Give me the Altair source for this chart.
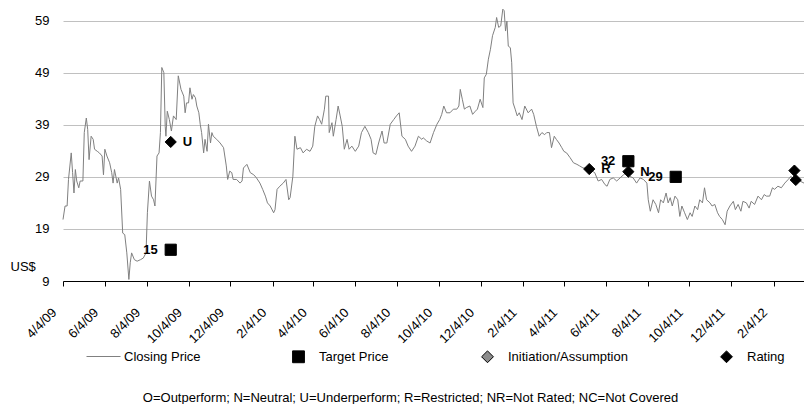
import altair as alt
import pandas as pd

START = "2009-04-04"

price_days = [
    0, 3, 6, 8, 12, 14, 16, 18, 20, 23, 25, 29, 31, 34, 36, 38, 41, 44, 46, 50, 53, 57, 59, 61, 64, 68, 71, 73, 75, 79,
    81, 84, 87, 90, 93, 96, 98, 100, 104, 108, 113, 117, 121, 123, 126, 129, 132, 134, 137, 140, 142, 144, 147, 149, 150,
    152, 155, 158, 161, 165, 168, 172, 176,
    178, 180, 183, 185, 188, 190, 193, 195, 198, 200, 202, 205, 207, 210, 212, 215, 217, 219, 224, 229, 234, 238, 240,
    243, 246, 248, 253, 258, 261, 263, 268, 273, 278, 282, 287, 291, 295, 298, 302, 307, 309, 312, 316, 321, 325, 329,
    331, 335, 338, 341, 346, 350,
    355, 360, 364, 367, 371, 374, 377, 381, 383, 387, 388, 392, 394, 398, 401, 404, 407, 410, 414, 417, 421, 426, 431,
    435, 440, 445, 449, 452, 456, 460, 465, 468, 472, 477, 482, 486, 490, 494, 499, 503, 508, 513, 518, 523,
    525, 530, 535, 540, 545, 549, 552, 555, 559, 564, 569, 574, 577, 579, 582, 585, 588, 593, 597, 601, 604, 608, 612,
    614, 617, 620, 623, 626, 630, 632, 635, 638, 641, 643, 645, 647, 649, 652, 654, 656, 659, 662, 665, 669, 673, 678,
    683, 686, 690, 694, 698, 702,
    705, 709, 712, 716, 719, 723, 727, 730, 734, 739, 744, 749, 753, 758, 763, 768, 775, 780, 785, 790, 793, 797, 802,
    807, 812, 817, 821, 826, 831, 836, 841, 846, 851, 853, 856, 860, 864, 868, 871, 875, 879, 882,
    885, 888, 892, 896, 899, 902, 906, 910, 914, 917, 921, 925, 928, 932, 935, 938, 943, 946, 950, 954, 957, 961, 965,
    968, 972, 977, 980, 984, 988, 991, 996, 1000, 1003, 1008, 1013, 1018, 1022, 1025, 1030, 1034, 1037, 1042, 1047,
    1052, 1057, 1061, 1064, 1069, 1074, 1080,
]

price_values = [
    20.8, 23.4, 23.4, 28.5, 33.6, 29.8, 25.9, 30.4, 28.2, 26.9, 28.2, 28.2, 37.5, 40.3, 38.1, 32.3, 36.8, 36.2, 34.3,
    33.9, 33.6, 33.0, 29.4, 34.3, 33.0, 31.7, 29.8, 27.8, 30.4, 27.8, 28.8, 26.6, 18.2, 17.9, 14.4, 9.3, 12.5, 14.4,
    13.1, 12.8, 13.1, 13.4, 14.4, 22.1, 28.2, 25.3, 24.6, 23.4, 33.0, 33.6, 37.5, 50.0, 49.0, 38.7, 36.8, 41.6, 40.0,
    37.8, 40.7, 40.0, 48.4, 45.8, 44.5,
    41.3, 43.2, 43.2, 46.1, 43.9, 44.8, 44.2, 42.6, 41.3, 39.1, 37.5, 33.6, 36.2, 33.9, 39.1, 35.5, 37.5, 36.8, 36.2,
    35.5, 34.6, 31.1, 28.5, 30.1, 29.8, 28.5, 28.5, 27.8, 28.2, 30.7, 31.4, 29.8, 29.4, 28.8, 27.8, 26.6, 25.3, 24.0,
    23.4, 22.1, 22.7, 26.6, 27.2, 27.8, 28.5, 24.6, 25.0, 29.1, 36.8, 34.3, 34.6, 33.6,
    34.3, 33.9, 34.9, 38.7, 40.7, 40.0, 39.1, 42.0, 44.5, 44.5, 37.5, 39.4, 36.8, 40.0, 42.6, 40.7, 38.7, 34.3, 36.2,
    34.3, 34.9, 33.9, 34.9, 37.5, 38.7, 37.5, 36.2, 33.6, 33.3, 35.5, 37.8, 35.5, 35.5, 39.1, 40.0, 40.7, 41.3, 36.8,
    36.2, 34.9, 33.9, 34.9, 36.8, 36.2,
    36.5, 35.9, 35.5, 37.5, 39.1, 40.0, 41.0, 42.6, 41.3, 41.3, 42.0, 42.0, 42.6, 45.8, 43.9, 42.0, 42.3, 42.6, 41.0,
    41.6, 42.0, 43.9, 42.3, 48.0, 48.7, 51.6, 53.5, 56.1, 57.7, 59.6, 57.7, 58.0, 61.2, 60.9, 57.0, 58.9, 54.1, 53.8,
    50.9, 43.2, 42.0, 40.7, 41.3, 40.0, 42.6, 41.3, 42.0, 41.0, 38.7, 36.8, 37.5, 37.1,
    37.5, 37.5, 34.6, 36.8, 36.2, 35.5, 34.6, 33.9, 33.6, 32.7, 31.7, 31.4, 31.1, 30.7, 30.7, 30.4, 29.8, 28.2, 28.5,
    27.5, 27.2, 28.5, 28.8, 28.2, 28.8, 29.4, 29.8, 29.1, 28.8, 27.8, 28.8, 28.5, 27.8, 24.6, 22.4, 24.6, 23.7, 22.1,
    24.6, 24.0, 25.9, 24.0,
    25.0, 23.4, 25.3, 24.6, 21.4, 23.4, 22.1, 20.8, 22.1, 21.4, 23.4, 22.7, 24.6, 24.0, 26.9, 24.6, 24.0, 23.4, 23.7,
    22.1, 21.4, 20.8, 19.8, 22.4, 23.4, 24.3, 22.7, 23.7, 22.4, 24.3, 24.0, 23.0, 24.3, 23.7, 25.3, 24.6, 25.6, 25.3,
    25.3, 26.9, 26.6, 27.2, 26.9, 27.8, 28.5, 29.1, 28.5, 28.2, 28.2, 27.8,
]

marker_series = ["Target Price", "Rating", "Rating", "Target Price", "Rating", "Target Price", "Rating", "Rating"]
marker_days = [157, 157, 767, 824, 824, 893, 1066, 1068]
marker_values = [15, 35.7, 30.5, 32, 30.0, 29, 30.2, 28.4]
marker_labels = ["15", "U", "R", "32", "N", "29", "", ""]

tick_dates = [
    "2009-04-04", "2009-06-04", "2009-08-04", "2009-10-04", "2009-12-04", "2010-02-04",
    "2010-04-04", "2010-06-04", "2010-08-04", "2010-10-04", "2010-12-04", "2011-02-04",
    "2011-04-04", "2011-06-04", "2011-08-04", "2011-10-04", "2011-12-04", "2012-02-04",
]
y_ticks = [9, 19, 29, 39, 49, 59]
line_series = ["Closing Price"]
marker_names = ["Target Price", "Initiation/Assumption", "Rating"]
footnote = "O=Outperform; N=Neutral; U=Underperform; R=Restricted; NR=Not Rated; NC=Not Covered"
END_DAY = 1080

FONT = "Liberation Sans, Arial, sans-serif"

start = pd.Timestamp(START)
price_df = pd.DataFrame({
    "date": start + pd.to_timedelta(price_days, unit="D"),
    "price": price_values,
    "series": line_series[0],
})
marker_df = pd.DataFrame({
    "date": start + pd.to_timedelta(marker_days, unit="D"),
    "price": marker_values,
    "series": marker_series,
    "label": marker_labels,
})


def dt(ts):
    return alt.DateTime(year=ts.year, month=ts.month, date=ts.day)


end = start + pd.Timedelta(days=END_DAY)
x_enc = alt.X(
    "date:T",
    scale=alt.Scale(domain=[dt(start), dt(end)]),
    axis=alt.Axis(
        values=[dt(pd.Timestamp(d)) for d in tick_dates],
        format="%-m/%-d/%y",
        labelAngle=-45,
        labelAlign="right",
        labelBaseline="middle",
        labelPadding=24,
        labelOffset=-9,
        labelFont=FONT,
        labelFontSize=13,
        labelColor="black",
        labelOverlap=False,
        grid=False,
        domainColor="black",
        domainWidth=1,
        tickColor="black",
        tickSize=5,
        tickWidth=1,
        title=footnote,
        titleFont=FONT,
        titleFontSize=13,
        titleFontWeight="normal",
        titleColor="black",
        titleX=347,
        titleY=116,
        titleAlign="center",
        titleBaseline="middle",
    ),
)
y_enc = alt.Y(
    "price:Q",
    scale=alt.Scale(domain=[9, 62], nice=False, zero=False),
    axis=alt.Axis(
        values=y_ticks,
        ticks=False,
        domain=False,
        labelPadding=14,
        labelFont=FONT,
        labelFontSize=13,
        labelColor="black",
        gridColor="#c0c0c0",
        gridWidth=1,
        title="US$",
        titleAngle=0,
        titleFont=FONT,
        titleFontSize=13,
        titleFontWeight="normal",
        titleColor="black",
        titleX=-53,
        titleY=261,
        titleAlign="left",
        titleBaseline="middle",
    ),
)

line_legend = alt.Legend(
    title=None,
    orient="none",
    legendX=23,
    legendY=334,
    direction="horizontal",
    padding=0,
    symbolType="stroke",
    symbolSize=1156,
    symbolStrokeWidth=1,
    labelOffset=3,
    labelFont=FONT,
    labelFontSize=13,
    labelColor="black",
    labelLimit=0,
)

line = alt.Chart(price_df).mark_line(strokeWidth=1).encode(
    x=x_enc,
    y=y_enc,
    color=alt.Color("series:N", scale=alt.Scale(domain=line_series, range=["#808080"]), legend=line_legend),
)

marker_legend = alt.Legend(
    title=None,
    orient="none",
    legendX=229,
    legendY=345,
    direction="horizontal",
    columns=3,
    columnPadding=90,
    padding=0,
    symbolSize=140,
    symbolStrokeWidth=1,
    labelOffset=14,
    labelFont=FONT,
    labelFontSize=13,
    labelColor="black",
    labelLimit=0,
)

points = alt.Chart(marker_df).mark_point(filled=True, size=125, strokeWidth=1, opacity=1).encode(
    x=x_enc,
    y=y_enc,
    fill=alt.Fill("series:N", scale=alt.Scale(domain=marker_names, range=["#000000", "#8c8c8c", "#000000"]),
                  legend=marker_legend),
    stroke=alt.Stroke("series:N", scale=alt.Scale(domain=marker_names, range=["#000000", "#000000", "#000000"]),
                      legend=marker_legend),
    shape=alt.Shape("series:N", scale=alt.Scale(domain=marker_names, range=["square", "diamond", "diamond"]),
                    legend=marker_legend),
)

target_text = alt.Chart(marker_df).transform_filter(
    alt.datum.series == "Target Price"
).mark_text(font=FONT, fontSize=13, fontWeight="bold", align="right", baseline="middle", dx=-13, color="black").encode(
    x=x_enc, y=y_enc, text="label:N"
)
rating_text = alt.Chart(marker_df).transform_filter(
    alt.datum.series == "Rating"
).mark_text(font=FONT, fontSize=13, fontWeight="bold", align="left", baseline="middle", dx=12, color="black").encode(
    x=x_enc, y=y_enc, text="label:N"
)

chart = alt.layer(line, points, target_text, rating_text).properties(
    width=741,
    height=276,
    autosize=alt.AutoSizeParams(type="none"),
    padding={"left": 63, "top": 5, "right": 0, "bottom": 123},
    background="white",
).configure_view(stroke=None)

chart.save("out.html", embed_options={"renderer": "svg", "actions": False})
